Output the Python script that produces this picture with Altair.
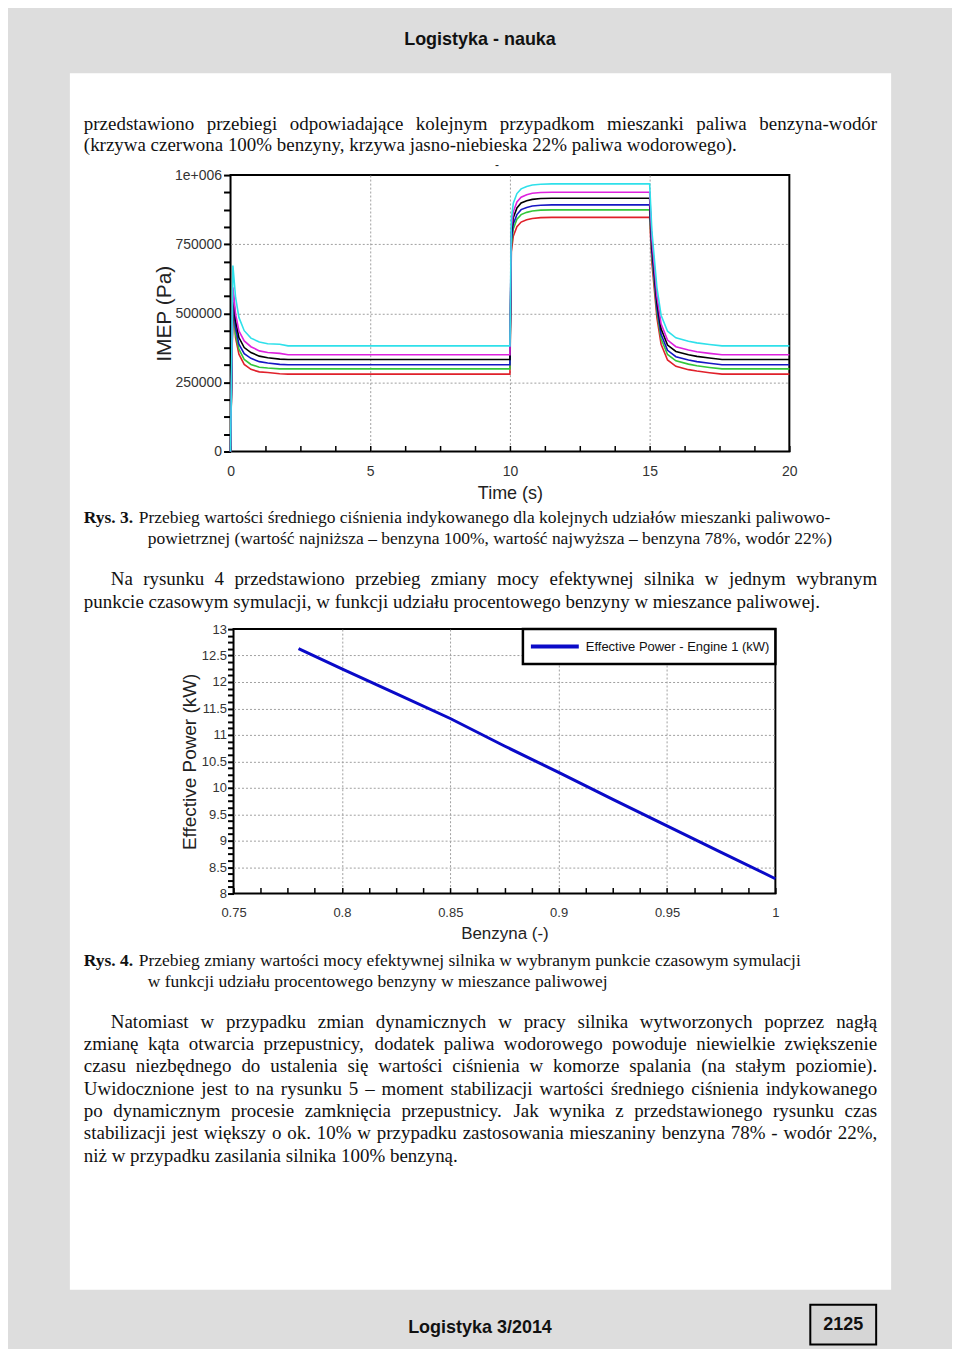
import altair as alt
import pandas as pd

# ---------------- Data: Rys. 3 (IMEP vs time, six fuel mixtures) ----------------
TIME_S = [0, 0.085, 0.18, 0.30, 0.49, 0.73, 1.03, 1.33, 1.76, 2.06, 10.0,
          10.05, 10.12, 10.25, 10.4, 10.6, 10.8, 11.1, 11.5, 15.0,
          15.08, 15.26, 15.41, 15.64, 15.94, 16.39, 16.69, 17.14, 17.59, 20.0]
IMEP_RED_KPA = [0, 545, 412, 352, 315, 297, 288, 286, 281, 280, 280,
                722, 779, 813, 830, 838, 843, 846, 847, 847,
                683, 484, 388, 331, 308, 296, 291, 285, 280, 280]
IMEP_GREEN_KPA = [0, 558, 424, 370, 333, 315, 305, 302, 299, 299, 299,
                  748, 805, 840, 857, 865, 870, 873, 874, 874,
                  707, 506, 408, 351, 328, 316, 310, 304, 299, 299]
IMEP_BLUE_KPA = [0, 570, 448, 388, 354, 337, 325, 320, 315, 314, 314,
                 765, 823, 857, 875, 883, 888, 891, 892, 892,
                 724, 522, 424, 366, 343, 331, 325, 319, 314, 314]
IMEP_BLACK_KPA = [0, 582, 473, 412, 376, 358, 345, 339, 334, 333, 333,
                  788, 846, 881, 899, 907, 912, 915, 916, 916,
                  747, 543, 444, 385, 362, 350, 344, 338, 333, 333]
IMEP_MAGENTA_KPA = [0, 594, 497, 436, 400, 379, 364, 358, 355, 350, 350,
                    809, 867, 903, 920, 929, 934, 937, 938, 938,
                    767, 562, 462, 403, 379, 367, 361, 355, 350, 350]
IMEP_CYAN_KPA = [0, 673, 558, 485, 437, 410, 396, 390, 388, 382, 382,
                 839, 898, 933, 950, 959, 964, 967, 968, 968,
                 798, 593, 493, 435, 411, 399, 393, 387, 382, 382]
IMEP_SERIES = ["benzyna 100%", "benzyna 96%", "benzyna 91%",
               "benzyna 87%", "benzyna 82%", "benzyna 78%"]
IMEP_COLORS = ["#e0202a", "#33c63a", "#1616c4", "#000000", "#de22de", "#2fe0ea"]

# ---------------- Data: Rys. 4 (effective power vs petrol share) ----------------
BENZYNA = [0.78, 0.80, 0.825, 0.85, 0.875, 0.90, 0.925, 0.95, 0.975, 1.00]
POWER_KW = [12.63, 12.25, 11.78, 11.31, 10.79, 10.29, 9.78, 9.28, 8.78, 8.28]
POWER_LABEL = "Effective Power - Engine 1 (kW)"

# ---------------- Page text ----------------
HEADER = "Logistyka - nauka"
PARA1 = ["przedstawiono przebiegi odpowiadające kolejnym przypadkom mieszanki paliwa benzyna-wodór",
         "(krzywa czerwona 100% benzyny, krzywa jasno-niebieska 22% paliwa wodorowego)."]
CAPTION3_LABEL = "Rys. 3."
CAPTION3 = ["Przebieg wartości średniego ciśnienia indykowanego dla kolejnych udziałów mieszanki paliwowo-",
            "powietrznej (wartość najniższa – benzyna 100%, wartość najwyższa – benzyna 78%, wodór 22%)"]
PARA2 = ["Na rysunku 4 przedstawiono przebieg zmiany mocy efektywnej silnika w jednym wybranym",
         "punkcie czasowym symulacji, w funkcji udziału procentowego benzyny w mieszance paliwowej."]
CAPTION4_LABEL = "Rys. 4."
CAPTION4 = ["Przebieg zmiany wartości mocy efektywnej silnika w wybranym punkcie czasowym symulacji",
            "w funkcji udziału procentowego benzyny w mieszance paliwowej"]
PARA3 = ["Natomiast w przypadku zmian dynamicznych w pracy silnika wytworzonych poprzez nagłą",
         "zmianę kąta otwarcia przepustnicy, dodatek paliwa wodorowego powoduje niewielkie zwiększenie",
         "czasu niezbędnego do ustalenia się wartości ciśnienia w komorze spalania (na stałym poziomie).",
         "Uwidocznione jest to na rysunku 5 – moment stabilizacji wartości średniego ciśnienia indykowanego",
         "po dynamicznym procesie zamknięcia przepustnicy. Jak wynika z przedstawionego rysunku czas",
         "stabilizacji jest większy o ok. 10% w przypadku zastosowania mieszaniny benzyna 78% - wodór 22%,",
         "niż w przypadku zasilania silnika 100% benzyną."]
FOOTER = "Logistyka 3/2014"
PAGE_NO = "2125"

# ---------------- Styles ----------------
SERIF = "Liberation Serif, Times New Roman, serif"
SANS = "Liberation Sans, Arial, sans-serif"
PAGE_GRAY = "#dddddd"
GRID = "#a0a0a0"

# Advance widths (1/1000 em) of the serif face, used only to justify text lines.
GLYPH_W = {" ": 250, "%": 833, "(": 333, ")": 333, ",": 250, "-": 333, ".": 250,
           "–": 500, "A": 722, "J": 389, "N": 722, "U": 722, "P": 556, "R": 667,
           "a": 444, "b": 500, "c": 444, "d": 500, "e": 444, "f": 333, "g": 500,
           "h": 500, "i": 278, "j": 278, "k": 500, "l": 278, "m": 778, "n": 500,
           "o": 500, "p": 500, "q": 500, "r": 333, "s": 389, "t": 278, "u": 500,
           "v": 500, "w": 722, "x": 500, "y": 500, "z": 444, "ą": 444, "ć": 444,
           "ę": 444, "ł": 278, "ń": 500, "ó": 500, "ś": 389, "ź": 444, "ż": 444}

# ---------------- Build tables ----------------
imep_lists = [IMEP_RED_KPA, IMEP_GREEN_KPA, IMEP_BLUE_KPA,
              IMEP_BLACK_KPA, IMEP_MAGENTA_KPA, IMEP_CYAN_KPA]
rows = []
for name, vals in zip(IMEP_SERIES, imep_lists):
    for t, v in zip(TIME_S, vals):
        rows.append({"series": name, "t": t, "imep": v * 1000})
imep_df = pd.DataFrame(rows)

power_df = pd.DataFrame({"benzyna": BENZYNA, "power": POWER_KW,
                         "series": [POWER_LABEL] * len(BENZYNA)})

ONE = alt.Data(values=[{"k": 0}])


def grid_cond(test):
    return {"condition": {"test": test, "value": 1}, "value": 0}


# ---------------- Rys. 3 chart ----------------
x1_vals = [round(i * 1.25, 4) for i in range(17)]
y1_vals = [i * 62500 for i in range(17)]
chart1 = alt.Chart(imep_df).mark_line(strokeWidth=1.6).encode(
    x=alt.X("t:Q", scale=alt.Scale(domain=[0, 20], nice=False, zero=False),
            axis=alt.Axis(title="Time (s)", values=x1_vals,
                          labelExpr="datum.value % 5 === 0 ? format(datum.value, 'd') : ''",
                          offset=-6, tickSize=6, tickWidth=1.5, tickColor="black",
                          domain=False, grid=True,
                          gridOpacity=grid_cond("datum.value % 5 === 0 && datum.value > 0 && datum.value < 20"),
                          gridColor=GRID, gridDash=[2, 2],
                          labelFont=SANS, labelFontSize=14, labelColor="#333",
                          labelPadding=13, labelFlush=False,
                          titleFont=SANS, titleFontSize=18, titleFontWeight="normal",
                          titleColor="#222", titlePadding=6)),
    y=alt.Y("imep:Q", scale=alt.Scale(domain=[0, 1000000], nice=False),
            axis=alt.Axis(title="IMEP (Pa)", values=y1_vals,
                          labelExpr="datum.value === 1000000 ? '1e+006' : (datum.value % 250000 === 0 ? format(datum.value, 'd') : '')",
                          tickSize=7, tickWidth=2, tickColor="black", domain=False, grid=True,
                          gridOpacity=grid_cond("datum.value % 250000 === 0 && datum.value > 0 && datum.value < 1000000"),
                          gridColor=GRID, gridDash=[2, 2],
                          labelFont=SANS, labelFontSize=14, labelColor="#333",
                          labelPadding=2, labelFlush=False,
                          titleFont=SANS, titleFontSize=21, titleFontWeight="normal",
                          titleColor="#222", titlePadding=0)),
    color=alt.Color("series:N", scale=alt.Scale(domain=IMEP_SERIES, range=IMEP_COLORS), legend=None),
).properties(
    width=560, height=277,
    title=alt.TitleParams("-", font=SANS, fontSize=12, fontWeight="normal", color="#222",
                          offset=-4, dx=-13, frame="group"),
    view=alt.ViewBackground(stroke="black", strokeWidth=2, fill="white"),
)

# ---------------- Rys. 4 chart ----------------
x2_vals = [round(0.75 + i * 0.0125, 4) for i in range(21)]
y2_vals = [round(8 + i * 0.125, 4) for i in range(41)]
chart2 = alt.Chart(power_df).mark_line(strokeWidth=3).encode(
    x=alt.X("benzyna:Q", scale=alt.Scale(domain=[0.75, 1.0], nice=False, zero=False),
            axis=alt.Axis(title="Benzyna (-)", values=x2_vals,
                          labelExpr="abs(datum.value * 20 - round(datum.value * 20)) < 0.000001 ? format(datum.value, '.4~g') : ''",
                          offset=-6, tickSize=6, tickWidth=1.5, tickColor="black",
                          domain=False, grid=True,
                          gridOpacity=grid_cond("abs(datum.value * 20 - round(datum.value * 20)) < 0.000001 && datum.value > 0.751 && datum.value < 0.999"),
                          gridColor=GRID, gridDash=[2, 2],
                          labelFont=SANS, labelFontSize=13, labelColor="#333",
                          labelPadding=13, labelFlush=False,
                          titleFont=SANS, titleFontSize=17, titleFontWeight="normal",
                          titleColor="#222", titlePadding=6)),
    y=alt.Y("power:Q", scale=alt.Scale(domain=[8, 13], nice=False, zero=False),
            axis=alt.Axis(title="Effective Power (kW)", values=y2_vals,
                          labelExpr="abs(datum.value * 2 - round(datum.value * 2)) < 0.000001 ? format(datum.value, '.4~g') : ''",
                          tickSize=6, tickWidth=2, tickColor="black", domain=False, grid=True,
                          gridOpacity=grid_cond("abs(datum.value * 2 - round(datum.value * 2)) < 0.000001 && datum.value > 8.01 && datum.value < 12.99"),
                          gridColor=GRID, gridDash=[2, 2],
                          labelFont=SANS, labelFontSize=13, labelColor="#333",
                          labelPadding=1, labelFlush=False,
                          titleFont=SANS, titleFontSize=19, titleFontWeight="normal",
                          titleColor="#222", titlePadding=2)),
    color=alt.Color("series:N", scale=alt.Scale(domain=[POWER_LABEL], range=["#0a0ac8"]),
                    legend=alt.Legend(title=None, orient="none", legendX=293, legendY=0,
                                      symbolType="stroke", symbolSize=2304, symbolStrokeWidth=4,
                                      clipHeight=23,
                                      labelFont=SANS, labelFontSize=13, labelColor="#111",
                                      labelOffset=5, labelLimit=400, padding=6,
                                      strokeColor="black", fillColor="white")),
).properties(
    width=543, height=265,
    view=alt.ViewBackground(stroke="black", strokeWidth=2, fill="white"),
)

spacer = alt.Chart(ONE).mark_point(opacity=0).encode(
    x=alt.value(0), y=alt.value(0)
).properties(width=3, height=265,
             view=alt.ViewBackground(stroke="transparent", fill="transparent"))

# ---------------- Page background and text (pixel layout) ----------------
OX, OY = 230, 8  # page position of the background view's origin
TEXT_RIGHT = 878


def rect(px0, py0, px1, py1, fill, stroke="transparent", sw=0):
    return alt.Chart(ONE).mark_rect(fill=fill, stroke=stroke, strokeWidth=sw).encode(
        x=alt.value(px0 - OX), x2=alt.value(px1 - OX),
        y=alt.value(py0 - OY), y2=alt.value(py1 - OY))


def line(txt, px, py, font=SERIF, size=19, weight="normal", align="left", color="#111"):
    return alt.Chart(ONE).mark_text(align=align, baseline="middle", font=font,
                                    fontSize=size, fontWeight=weight, color=color).encode(
        x=alt.value(px - OX), y=alt.value(py - OY), text=alt.value(txt))


def justified(txt, px0, py, px1=TEXT_RIGHT, size=19):
    words = txt.split(" ")
    widths = [sum(GLYPH_W.get(ch, 500) for ch in w) * size / 1000.0 for w in words]
    gap = (px1 - px0 - sum(widths)) / (len(words) - 1)
    out = []
    x = px0
    for i, (w, wd) in enumerate(zip(words, widths)):
        if i == len(words) - 1:
            out.append(line(w, px1, py, align="right", size=size))
        else:
            out.append(line(w, x, py, size=size))
        x += wd + gap
    return out


layers = [
    rect(8, 8, 952, 1347, PAGE_GRAY),
    rect(69, 71, 892, 1290, "white"),
    rect(811, 1305, 877, 1345, "#d6d6d6", "black", 2),
    line(HEADER, 480, 38, SANS, 18, "bold", "center"),
]
layers += justified(PARA1[0], 83, 122)
layers += [
    line(PARA1[1], 83, 143),
    line(CAPTION3_LABEL, 83, 517, SERIF, 17.5, "bold"),
    line(CAPTION3[0], 138, 517, SERIF, 17.5),
    line(CAPTION3[1], 147, 538, SERIF, 17.5),
]
layers += justified(PARA2[0], 110, 578)
layers += [
    line(PARA2[1], 83, 601),
    line(CAPTION4_LABEL, 83, 961, SERIF, 17.5, "bold"),
    line(CAPTION4[0], 138, 961, SERIF, 17.5),
    line(CAPTION4[1], 147, 982, SERIF, 17.5),
]
para3_y = [1022, 1044, 1066, 1089, 1111, 1133, 1156]
for i, (txt, yy) in enumerate(zip(PARA3, para3_y)):
    x0 = 110 if i == 0 else 83
    if i < len(PARA3) - 1:
        layers += justified(txt, x0, yy)
    else:
        layers.append(line(txt, x0, yy))
layers.append(line(FOOTER, 480, 1328, SANS, 18, "bold", "center"))
layers.append(line(PAGE_NO, 844, 1325, SANS, 18, "bold", "center"))

page_bg = alt.layer(*layers).properties(
    width=560, height=165,
    view=alt.ViewBackground(stroke="transparent", fill="transparent"))

row2 = alt.hconcat(spacer, chart2, spacing=0, bounds="flush")
plots = alt.vconcat(chart1, row2, spacing=178, bounds="flush").resolve_scale(
    color="independent").resolve_legend(color="independent")
chart = alt.vconcat(page_bg, plots, spacing=0, bounds="flush").properties(
    padding=0, background=PAGE_GRAY
).configure_legend(strokeWidth=2.5)

chart.save("out.html", embed_options={"renderer": "svg", "actions": False})
